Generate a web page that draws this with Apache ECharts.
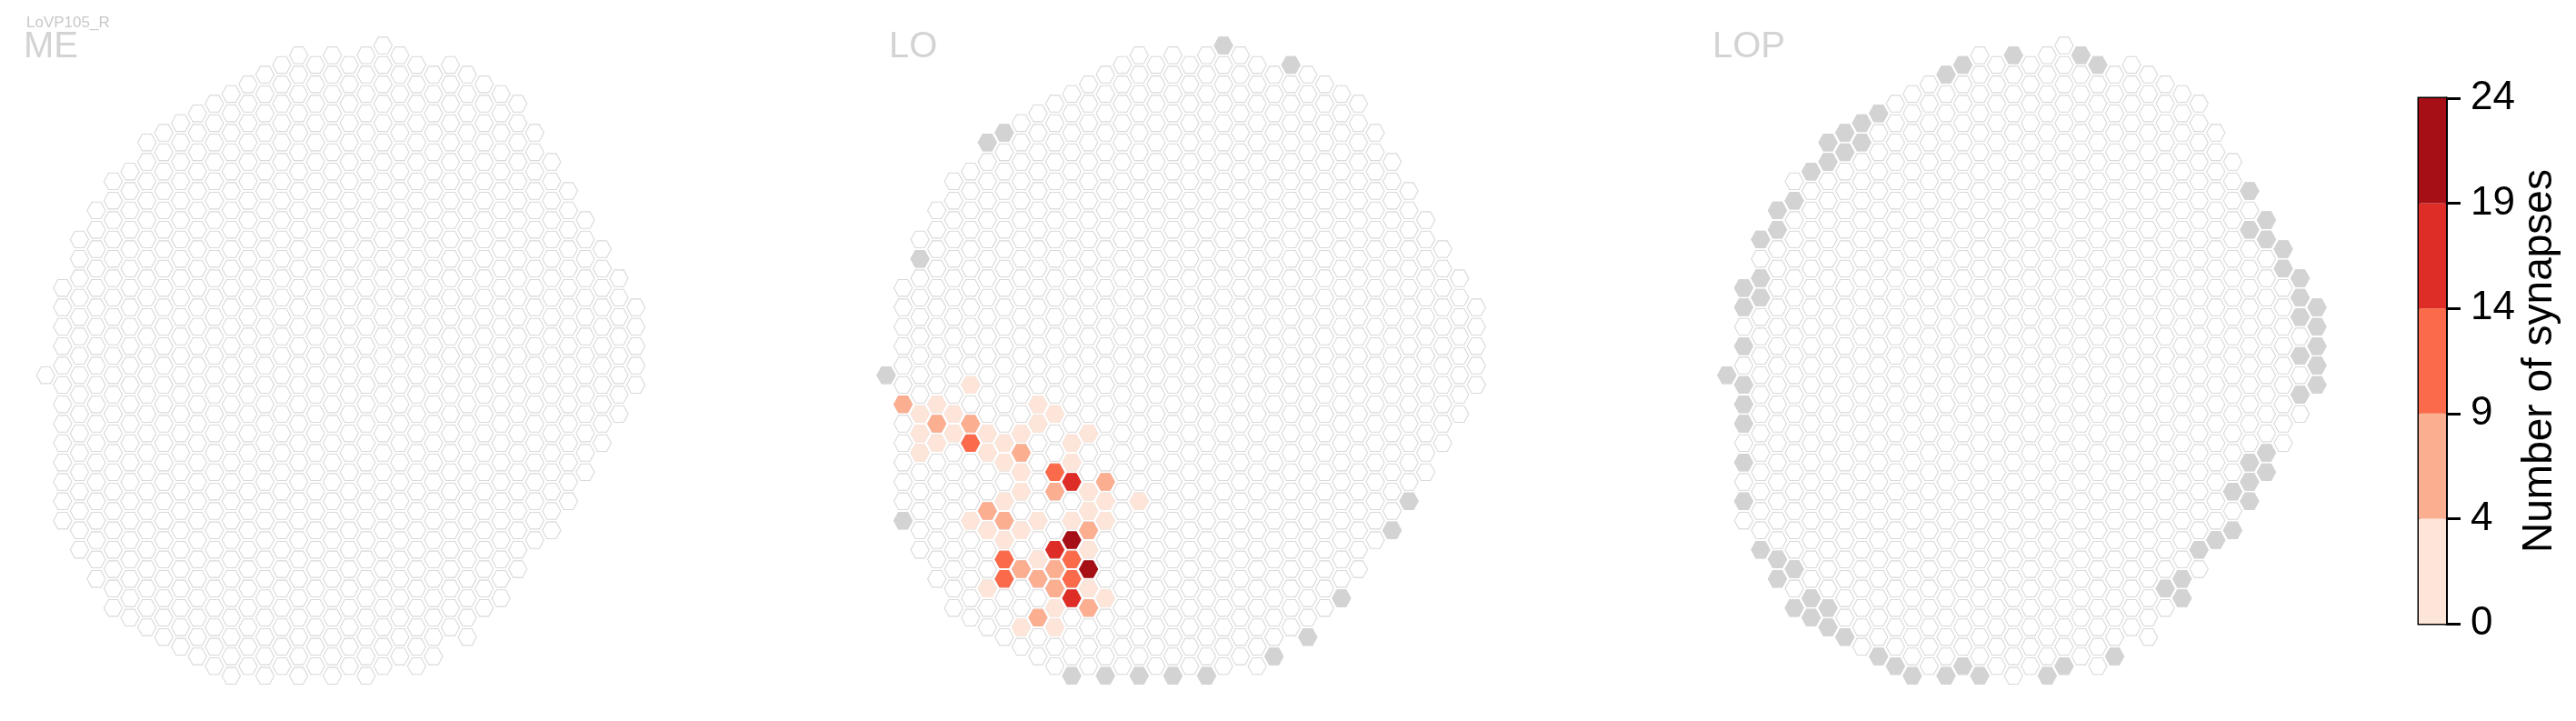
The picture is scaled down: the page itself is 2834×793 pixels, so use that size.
<!DOCTYPE html>
<html>
<head>
<meta charset="utf-8">
<script src="https://cdn.jsdelivr.net/npm/echarts@6/dist/echarts.min.js"></script>
<style>
  html, body { margin: 0; padding: 0; background: #ffffff; }
  #chart { width: 2834px; height: 793px; }
</style>
</head>
<body>
<div id="chart"></div>
<script>
// ---------------- data ----------------
const figureTitle = 'LoVP105_R';
const panelNames = ['ME', 'LO', 'LOP'];

// hex grid: [column, top half-row, bottom half-row] (half-rows step by 2)
const gridCols = [
  [0, 0, 0], [1, -9, 15], [2, -14, 18], [3, -17, 21], [4, -20, 24], [5, -21, 25],
  [6, -24, 26], [7, -25, 27], [8, -26, 28], [9, -27, 29], [10, -28, 30], [11, -29, 31],
  [12, -30, 30], [13, -31, 31], [14, -32, 30], [15, -33, 31], [16, -32, 30], [17, -33, 31],
  [18, -32, 30], [19, -33, 31], [20, -34, 30], [21, -33, 29], [22, -32, 30], [23, -31, 29],
  [24, -32, 26], [25, -31, 27], [26, -30, 24], [27, -29, 23], [28, -28, 20], [29, -25, 17],
  [30, -22, 16], [31, -19, 13], [32, -16, 10], [33, -13, 7], [34, -10, 4], [35, -7, 1]
];

// LO synapse counts: [column, half-row, number of synapses]
const loSynapses = [
  [5, 1, 2], [1, 3, 6], [3, 3, 2], [9, 3, 2], [2, 4, 2], [4, 4, 2], [10, 4, 2],
  [3, 5, 6], [5, 5, 6], [9, 5, 2], [2, 6, 2], [4, 6, 2], [6, 6, 2], [8, 6, 2], [12, 6, 2],
  [3, 7, 2], [5, 7, 11], [7, 7, 2], [11, 7, 2], [2, 8, 2], [6, 8, 2], [8, 8, 6],
  [7, 9, 2], [11, 9, 2], [8, 10, 2], [10, 10, 11], [11, 11, 16], [13, 11, 6],
  [8, 12, 2], [10, 12, 6], [12, 12, 2], [7, 13, 2], [13, 13, 2], [15, 13, 2],
  [6, 14, 6], [12, 14, 2], [5, 15, 2], [7, 15, 6], [9, 15, 2], [11, 15, 2], [13, 15, 2],
  [6, 16, 2], [8, 16, 2], [12, 16, 6], [7, 17, 2], [11, 17, 21], [10, 18, 16], [12, 18, 2],
  [7, 19, 11], [9, 19, 2], [11, 19, 11], [8, 20, 6], [10, 20, 6], [12, 20, 21],
  [7, 21, 11], [9, 21, 6], [11, 21, 11], [6, 22, 2], [10, 22, 6], [12, 22, 2],
  [11, 23, 16], [13, 23, 2], [10, 24, 2], [12, 24, 6], [9, 25, 6], [8, 26, 2], [10, 26, 2]
];

// columns outside the neuropil (grey): [column, half-row]
const loGrey = [
  [0, 0], [1, 15], [2, -12], [6, -24], [7, -25], [20, -34], [24, -32],
  [11, 31], [13, 31], [15, 31], [17, 31], [19, 31], [23, 29], [25, 27], [27, 23],
  [30, 16], [31, 13]
];
const lopGrey = [
  [17, -33], [14, -32], [13, -31], [21, -33], [22, -32],
  [9, -27], [8, -26], [7, -25], [6, -24], [8, -24], [7, -23], [6, -22], [5, -21],
  [4, -18], [3, -17], [3, -15], [2, -14], [2, -10], [1, -9], [2, -8], [1, -7], [1, -3],
  [0, 0], [1, 1], [1, 3], [1, 5], [1, 9], [1, 13],
  [2, 18], [3, 19], [4, 20], [3, 21], [5, 23], [4, 24], [6, 24], [5, 25], [6, 26], [7, 27],
  [9, 29], [10, 30], [11, 31], [13, 31], [14, 30], [15, 31], [19, 31], [20, 30], [23, 29],
  [31, -19], [32, -16], [31, -15], [32, -14], [33, -13], [33, -11], [34, -10], [34, -8],
  [35, -7], [34, -6], [35, -5], [35, -3], [34, -2], [35, -1], [35, 1], [34, 2],
  [32, 8], [31, 9], [32, 10], [31, 11], [30, 12], [31, 13], [30, 16], [29, 17], [28, 18],
  [27, 21], [26, 22], [27, 23]
];

const cbTicks = [0, 4, 9, 14, 19, 24];
const cbColors = ['#fee5d9', '#fcae91', '#fb6a4a', '#de2d26', '#a50f15'];
const cbTitle = 'Number of synapses';

// ---------------- layout ----------------
const FONT = '"Liberation Sans", Arial, Helvetica, sans-serif';
const colStep = 18.55, halfRowStep = 10.665, rowZeroY = 412.7;
const panelX0 = [50.3, 975, 1899.8];
const titleLeft = [21, 973, 1879];
const xMin = -1, xMax = 36, yMin = -36, yMax = 33;

const allCells = [];
gridCols.forEach(([c, t, b]) => { for (let h = t; h <= b; h += 2) allCells.push([c, h]); });

function hexPoints(api) {
  const p = api.coord([api.value(0), api.value(1)]);
  const s = api.size([1, 1]);
  const rx = s[0] * 0.545, ry = s[1] * 0.86;
  return [
    [p[0] + rx, p[1]], [p[0] + rx / 2, p[1] + ry], [p[0] - rx / 2, p[1] + ry],
    [p[0] - rx, p[1]], [p[0] - rx / 2, p[1] - ry], [p[0] + rx / 2, p[1] - ry]
  ];
}
function hexSeries(gridIndex, data, kind) {
  return {
    type: 'custom', xAxisIndex: gridIndex, yAxisIndex: gridIndex, data: data,
    silent: true, animation: false,
    encode: { x: 0, y: 1 },
    renderItem: function (params, api) {
      let style;
      if (kind === 'base') style = { fill: '#ffffff', stroke: '#d9d9d9', lineWidth: 1.1 };
      else if (kind === 'grey') style = { fill: '#d3d3d3', stroke: '#d3d3d3', lineWidth: 1 };
      else { const col = api.visual('color'); style = { fill: col, stroke: col, lineWidth: 1 }; }
      return { type: 'polygon', shape: { points: hexPoints(api) }, style: style };
    }
  };
}

const grids = [], xAxes = [], yAxes = [], series = [];
panelX0.forEach((x0, i) => {
  grids.push({ left: x0 + xMin * colStep, width: (xMax - xMin) * colStep,
               top: rowZeroY + yMin * halfRowStep, height: (yMax - yMin) * halfRowStep });
  xAxes.push({ type: 'value', gridIndex: i, min: xMin, max: xMax, show: false });
  yAxes.push({ type: 'value', gridIndex: i, min: yMin, max: yMax, inverse: true, show: false });
});
// colour bar grid
const cbIndex = 3;
grids.push({ left: 2661, top: 108, width: 30, height: 578, show: true,
             borderColor: '#000000', borderWidth: 3, backgroundColor: 'transparent' });
xAxes.push({ type: 'category', gridIndex: cbIndex, data: ['cb'], show: false });
yAxes.push({
  type: 'value', gridIndex: cbIndex, min: 0, max: cbTicks.length - 1, interval: 1,
  position: 'right',
  axisLine: { show: true, lineStyle: { color: '#000', width: 3 } },
  axisTick: { show: true, inside: false, length: 16, lineStyle: { color: '#000', width: 3 } },
  axisLabel: { formatter: v => String(cbTicks[v]), fontSize: 44, color: '#000', margin: 27, fontFamily: FONT },
  splitLine: { show: false },
  name: cbTitle, nameLocation: 'middle', nameRotate: 90, nameGap: 80,
  nameTextStyle: { fontSize: 46, color: '#000', fontFamily: FONT }
});

series.push(hexSeries(0, allCells, 'base'));
series.push(hexSeries(1, allCells, 'base'));
series.push(hexSeries(1, loGrey, 'grey'));
series.push(hexSeries(1, loSynapses, 'value'));
series.push(hexSeries(2, allCells, 'base'));
series.push(hexSeries(2, lopGrey, 'grey'));
const valueSeriesIndex = 3;

cbColors.forEach((c, k) => {
  series.push({ type: 'bar', xAxisIndex: cbIndex, yAxisIndex: cbIndex, stack: 'cb',
                data: [1], barWidth: '100%', silent: true, animation: false,
                itemStyle: { color: c } });
});

const pieces = cbColors.map((c, k) => ({ gt: cbTicks[k], lte: cbTicks[k + 1], color: c }));
pieces[0] = { gte: cbTicks[0], lte: cbTicks[1], color: cbColors[0] };

const titles = [{ text: figureTitle, left: 24, top: 12,
                  textStyle: { fontSize: 17, color: '#c8c8c8', fontWeight: 'normal', fontFamily: FONT } }];
panelNames.forEach((n, i) => titles.push({ text: n, left: titleLeft[i], top: 27,
  textStyle: { fontSize: 40, color: '#d3d3d3', fontWeight: 'normal', fontFamily: FONT } }));

const chart = echarts.init(document.getElementById('chart'), null, { renderer: 'canvas' });
chart.setOption({
  backgroundColor: '#ffffff',
  animation: false,
  title: titles,
  grid: grids, xAxis: xAxes, yAxis: yAxes,
  visualMap: { type: 'piecewise', show: false, seriesIndex: valueSeriesIndex, dimension: 2, pieces: pieces },
  series: series
});
</script>
</body>
</html>
